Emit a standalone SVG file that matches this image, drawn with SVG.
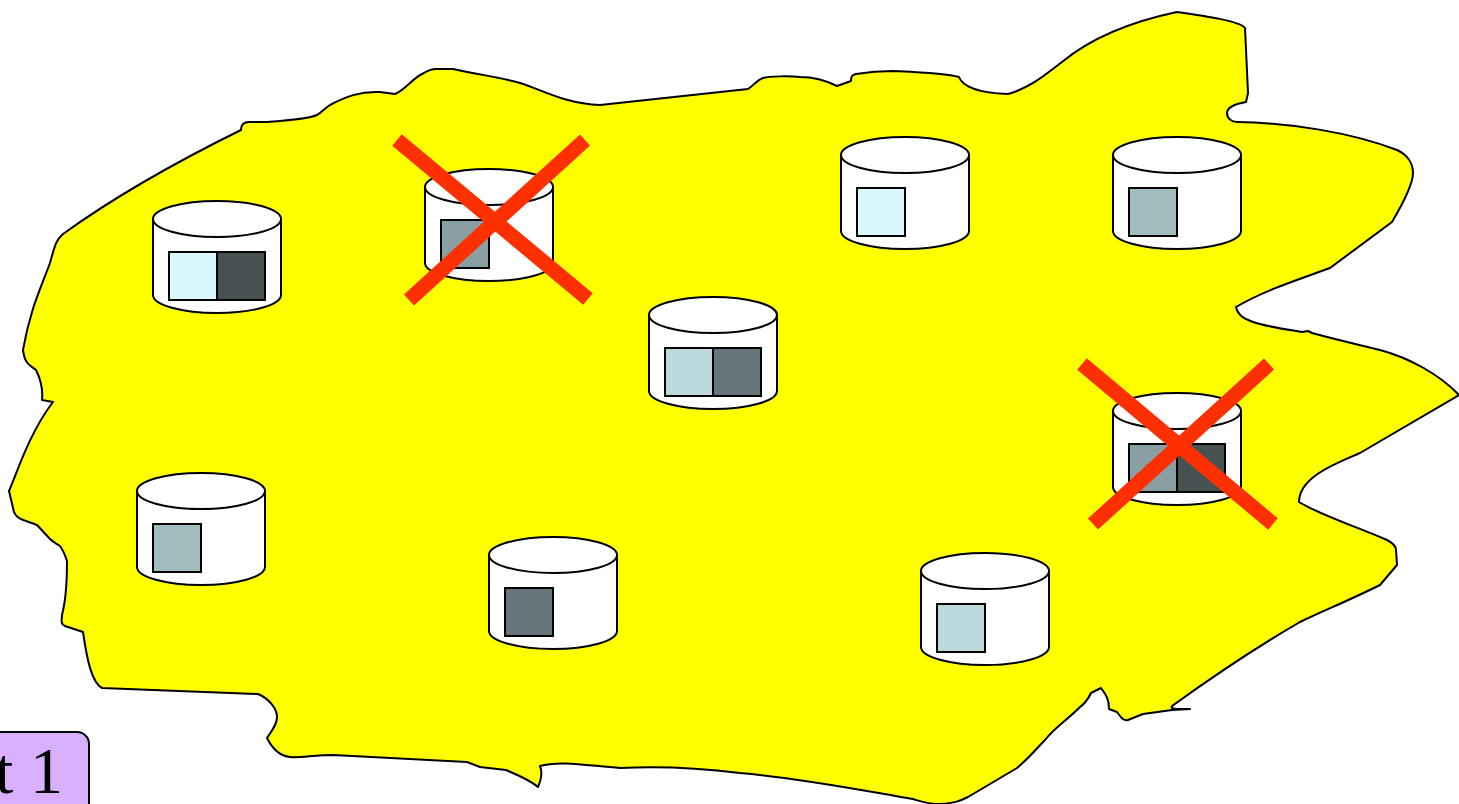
<svg xmlns="http://www.w3.org/2000/svg" width="1459" height="804" viewBox="0 0 1459 804">
<style>
.b{fill:#fff;stroke:#000;stroke-width:2}
.s{stroke:#000;stroke-width:2}
.x{fill:none;stroke:#ff3000;stroke-width:15}
.t{font-family:"Liberation Serif","Times New Roman",serif;font-size:66px;fill:#000}
</style>
<defs>
<g id="cyl">
<path class="b" d="M0 0V76C0 86 29 94 64 94S128 86 128 76V0Z"/>
<ellipse class="b" cx="64" cy="0" rx="64" ry="18"/>
</g>
</defs>
<rect width="1459" height="804" fill="#fff"/>
<g id="cloud">
<path fill="#ffff00" stroke="#000" stroke-width="2" stroke-linejoin="round" d="M241 130C241 125 243 122 249 122L267 122C285 120 305 120 317 115C322 112 325 108 330 105C345 97 360 91 380 92L395 94C405 90 412 79 422 74C427 71 430 69 436 69L453 69C480 75 500 77 520 83C540 89 565 104 600 105L748 89C753 86 757 80 763 78C770 76 790 76 800 77C815 77 827 81 837 86L851 81C851 76 852 75 856 74C868 72 880 71 893 71C915 72 945 73 959 77C962 85 975 93 1008 94C1030 88 1045 75 1062 62C1085 43 1120 24 1177 12C1205 16 1240 21 1245 28L1248 93L1246 102C1235 104 1227 107 1227 113C1227 118 1231 122 1237 122C1290 123 1350 132 1397 150C1408 155 1413 164 1413 173C1413 183 1405 200 1392 222L1330 268C1300 279 1265 290 1236 307C1238 316 1245 320 1260 324C1275 328 1290 330 1302 332L1308 331L1312 333C1345 342 1365 346 1380 350C1410 358 1440 375 1459 395L1360 453C1340 462 1299 476 1299 502C1320 515 1360 528 1387 540C1393 543 1396 546 1396 550L1397 565L1380 585C1350 600 1325 610 1300 622C1255 648 1215 675 1172 706C1170 709 1175 709 1190 709L1172 710L1143 714L1128 720C1124 721 1122 719 1117 712L1109 709C1109 700 1107 696 1101 688L1091 693C1088 700 1082 706 1080 707C1065 722 1055 727 1045 740C1035 750 1030 757 1017 768L968 797C960 801 955 803 940 804C927 804 920 801 913 799C860 790 800 778 740 773C700 768 660 766 620 768C590 766 560 760 540 766C543 773 541 780 538 787C530 780 520 776 506 770L480 767L467 762L333 755C315 755 300 758 290 757C280 756 272 748 267 738C272 730 277 725 277 717C277 708 268 698 258 694L102 688C92 683 87 660 83 632L65 626C60 624 62 620 62 615C66 600 67 580 67 561C65 555 63 550 60 546C55 543 52 541 50 539L37 525C25 520 17 520 14 512L9 491C18 470 30 432 53 402L42 400C43 390 40 378 36 370C30 365 25 365 23 350C30 310 40 290 50 263C55 245 56 240 63 234C110 200 170 165 241 130Z"/>
</g>
<g id="cylinder-1"><use href="#cyl" x="153" y="219"/><rect class="s" x="169" y="252" width="48" height="48" fill="#d9f7ff"/><rect class="s" x="217" y="252" width="48" height="48" fill="#465252"/></g>
<g id="cylinder-2"><use href="#cyl" x="425" y="187"/><rect class="s" x="441" y="220" width="48" height="48" fill="#8a9fa3"/></g>
<g id="cylinder-3"><use href="#cyl" x="841" y="155"/><rect class="s" x="857" y="188" width="48" height="48" fill="#d9f7ff"/></g>
<g id="cylinder-4"><use href="#cyl" x="1113" y="155"/><rect class="s" x="1129" y="188" width="48" height="48" fill="#a3bcc0"/></g>
<g id="cylinder-5"><use href="#cyl" x="649" y="315"/><rect class="s" x="665" y="348" width="48" height="48" fill="#bcd9e0"/><rect class="s" x="713" y="348" width="48" height="48" fill="#66777b"/></g>
<g id="cylinder-6"><use href="#cyl" x="1113" y="411"/><rect class="s" x="1129" y="444" width="48" height="48" fill="#8a9fa3"/><rect class="s" x="1177" y="444" width="48" height="48" fill="#465252"/></g>
<g id="cylinder-7"><use href="#cyl" x="137" y="491"/><rect class="s" x="153" y="524" width="48" height="48" fill="#a3bcc0"/></g>
<g id="cylinder-8"><use href="#cyl" x="489" y="555"/><rect class="s" x="505" y="588" width="48" height="48" fill="#66777b"/></g>
<g id="cylinder-9"><use href="#cyl" x="921" y="571"/><rect class="s" x="937" y="604" width="48" height="48" fill="#bcd9e0"/></g>
<g id="cross-1"><path class="x" d="M397 140L588 299M585 140L409 300"/></g>
<g id="cross-2"><path class="x" d="M1082 364L1273 524M1269 364L1093 524"/></g>
<g id="label">
<rect x="-40" y="732" width="129" height="90" rx="12" fill="#d8b0ff" stroke="#000" stroke-width="2"/>
<text class="t" y="793" x="-5 14 30">t 1</text>
</g>
<g id="connectors"></g>
</svg>
